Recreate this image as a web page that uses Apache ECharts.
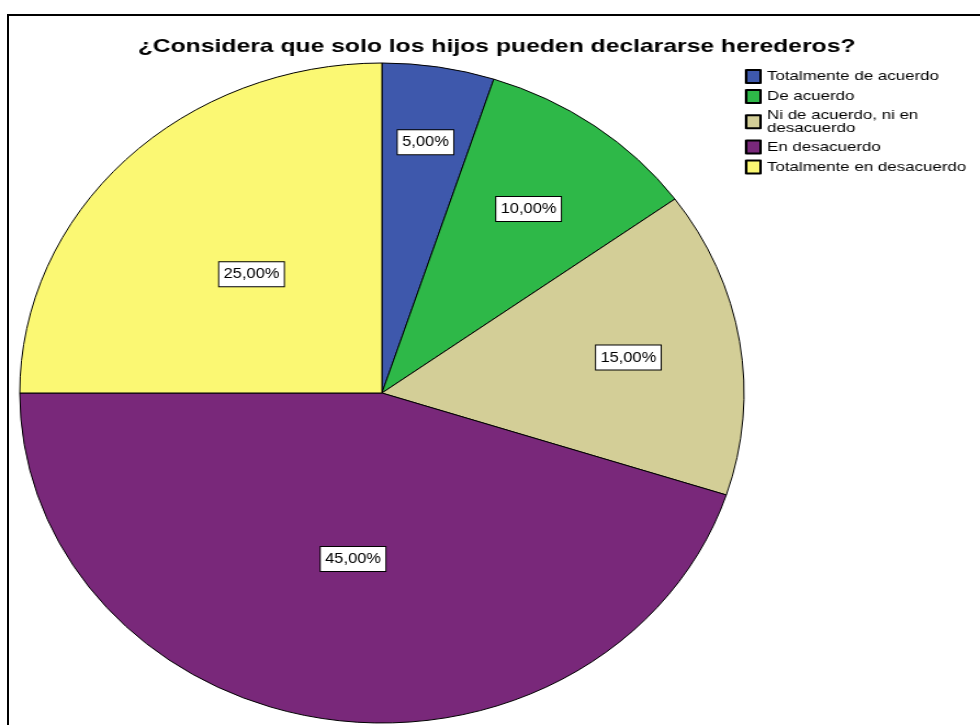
<!DOCTYPE html>
<html>
<head>
<meta charset="utf-8">
<script src="https://cdn.jsdelivr.net/npm/echarts@6/dist/echarts.min.js"></script>
<style>
  html, body { margin: 0; padding: 0; background: #fff; width: 980px; height: 725px; overflow: hidden; }
  #frame { position: absolute; left: 7px; top: 14px; width: 1000px; height: 800px; border-left: 2px solid #000; border-top: 2px solid #000; }
  #pie { position: absolute; left: 0; top: 0; width: 893px; height: 725px; transform: scaleX(1.0974); transform-origin: 0 0; }
  #txt { position: absolute; left: 0; top: 0; width: 754px; height: 725px; transform: scaleX(1.3); transform-origin: 0 0; pointer-events: none; }
</style>
</head>
<body>
<div id="frame"></div>
<div id="pie"></div>
<div id="txt"></div>
<script>
// ---- data ----
const titleText = '¿Considera que solo los hijos pueden declararse herederos?';
const categories = ['Totalmente de acuerdo', 'De acuerdo', 'Ni de acuerdo, ni en desacuerdo', 'En desacuerdo', 'Totalmente en desacuerdo'];
const percentages = [5, 10, 15, 45, 25];

// ---- styles / layout ----
const colors = ['#3E58AC', '#2EB848', '#D3CE97', '#79287A', '#FBF873'];
const R = 330;
const CENTER = [348, 393];
const labelRing = [0.76, 0.68, 0.68, 0.5, 0.5];
const fmt = v => v.toFixed(2).replace('.', ',') + '%';

const pieChart = echarts.init(document.getElementById('pie'), null, { renderer: 'canvas' });
const series = [{
  type: 'pie',
  name: 'main',
  center: CENTER,
  radius: [0, R],
  startAngle: 90,
  clockwise: true,
  silent: true,
  animation: false,
  label: { show: false },
  labelLine: { show: false },
  itemStyle: { borderColor: '#000', borderWidth: 1 },
  data: categories.map((c, i) => ({ name: c, value: percentages[i], itemStyle: { color: colors[i] } }))
}];
[...new Set(labelRing)].forEach((f, k) => {
  series.push({
    type: 'pie',
    name: 'labels' + k,
    center: CENTER,
    radius: [0, 2 * f * R],
    startAngle: 90,
    clockwise: true,
    silent: true,
    animation: false,
    z: 5,
    itemStyle: { color: 'rgba(0,0,0,0)', borderWidth: 0 },
    labelLine: { show: false },
    data: categories.map((c, i) => ({
      name: c, value: percentages[i],
      label: {
        show: labelRing[i] === f,
        position: 'inside',
        formatter: p => fmt(p.value),
        fontFamily: 'Liberation Sans, Arial, sans-serif',
        fontSize: 15,
        lineHeight: 16,
        color: '#000',
        backgroundColor: '#fff',
        borderColor: '#000',
        borderWidth: 1,
        padding: [4, 4, 4, 4]
      }
    }))
  });
});
pieChart.setOption({ animation: false, series });

const txtChart = echarts.init(document.getElementById('txt'), null, { renderer: 'canvas' });
txtChart.setOption({
  animation: false,
  color: colors,
  title: {
    text: titleText,
    left: 382,
    textAlign: 'center',
    top: 37,
    padding: 0,
    textStyle: { fontFamily: 'Liberation Sans, Arial, sans-serif', fontWeight: 'bold', fontSize: 19, color: '#000' }
  },
  legend: {
    orient: 'vertical',
    left: 573,
    top: 69,
    padding: 0,
    itemWidth: 11,
    itemHeight: 13,
    itemGap: 5,
    icon: 'rect',
    selectedMode: false,
    formatter: name => name.length > 26 ? name.replace(/^(.{1,20}) /, '$1\n') : name,
    textStyle: { fontFamily: 'Liberation Sans, Arial, sans-serif', fontSize: 13, lineHeight: 12.5, color: '#000' },
    data: categories
  },
  series: [{
    type: 'pie',
    center: [-500, -500],
    radius: 1,
    silent: true,
    label: { show: false },
    itemStyle: { borderColor: '#000', borderWidth: 1 },
    data: categories.map((c, i) => ({ name: c, value: percentages[i] }))
  }]
});
</script>
</body>
</html>
